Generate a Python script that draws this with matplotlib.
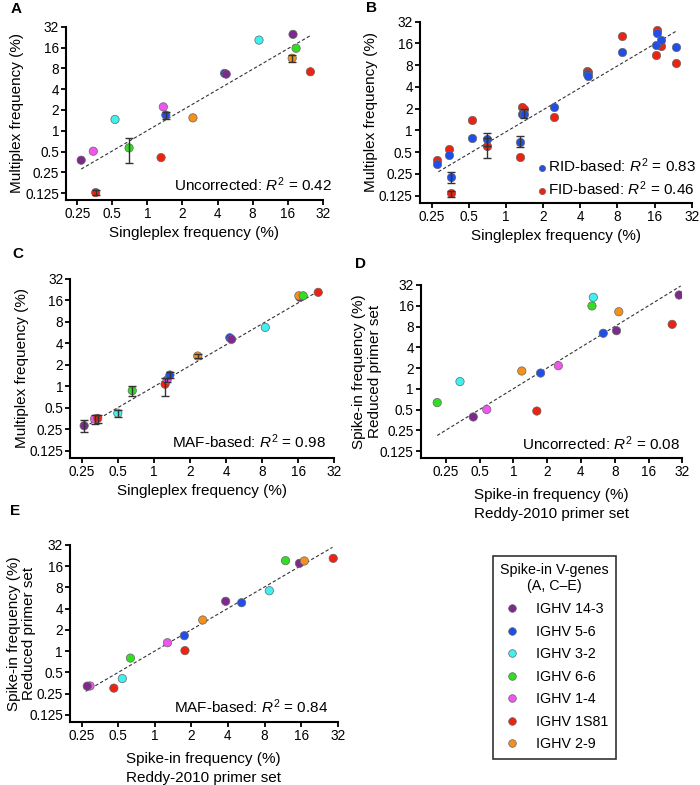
import numpy as np
import matplotlib.pyplot as plt
from matplotlib.lines import Line2D

plt.rcParams['font.family'] = ['Liberation Sans', 'DejaVu Sans']
plt.rcParams['mathtext.fontset'] = 'custom'
plt.rcParams['mathtext.rm'] = 'Liberation Sans'
plt.rcParams['mathtext.it'] = 'Liberation Sans:italic'

# spike-in genes and their colours
genes = ['IGHV 14-3', 'IGHV 5-6', 'IGHV 3-2', 'IGHV 6-6', 'IGHV 1-4', 'IGHV 1S81', 'IGHV 2-9']
gene_colors = ['#7c2a8c', '#1f4fe8', '#40f0f0', '#33dd22', '#f055f0', '#ee2211', '#f5901c']

tick_vals = [0.125, 0.25, 0.5, 1, 2, 4, 8, 16, 32]
tick_labels = ['0.125', '0.25', '0.5', '1', '2', '4', '8', '16', '32']

# Panel A: uncorrected multiplex vs singleplex
a_gene = [0, 4, 5, 2, 3, 5, 4, 1, 6, 1, 0, 2, 0, 6, 3, 5]
a_x = [0.27, 0.343, 0.36, 0.527, 0.696, 1.31, 1.37, 1.44, 2.46, 4.6, 4.75, 9.08, 17.8, 17.5, 18.9, 25.1]
a_y = [0.376, 0.507, 0.128, 1.46, 0.567, 0.41, 2.22, 1.69, 1.54, 6.77, 6.6, 20.5, 24.8, 11.2, 15.6, 7.14]
a_lo = [None, None, 0.118, None, 0.337, None, None, 1.46, None, None, None, None, None, 9.9, None, None]
a_hi = [None, None, 0.140, None, 0.80, None, None, 1.87, None, None, None, None, None, 12.3, None, None]
a_fit_x = [0.27, 25.0]
a_fit_y = [0.28, 23.7]

# Panel B: RID- and FID-based
b_x = [0.278, 0.343, 0.358, 0.528, 0.70, 1.30, 1.35, 1.41, 2.43, 4.53, 4.6, 8.7, 16.5, 16.9, 18.1, 23.9]
b_rid = [0.344, 0.453, 0.229, 0.79, 0.77, 0.70, 1.70, 1.70, 2.13, 6.05, 5.7, 12.1, 15.2, 22.1, 17.8, 14.1]
b_fid = [0.39, 0.555, 0.135, 1.40, 0.615, 0.43, 2.13, 2.0, 1.55, 6.7, 6.4, 20.5, 11.1, 24.5, 14.9, 8.66]
b_rid_lo = [None, None, 0.19, None, 0.61, 0.585, None, 1.5, None, None, None, None, None, None, None, None]
b_rid_hi = [None, None, 0.268, None, 0.93, 0.835, None, 1.95, None, None, None, None, None, None, None, None]
b_fid_lo = [None, None, 0.12, None, 0.41, None, None, None, None, None, None, None, None, None, None, None]
b_fid_hi = [None, None, 0.145, None, 0.78, None, None, None, None, None, None, None, None, None, None, None]
b_fit_x = [0.283, 24.3]
b_fit_y = [0.268, 24.0]

# Panel C: MAF-based
c_gene = [0, 4, 5, 2, 3, 5, 4, 1, 6, 1, 0, 2, 0, 6, 3, 5]
c_x = [0.262, 0.32, 0.34, 0.5, 0.66, 1.24, 1.29, 1.36, 2.32, 4.3, 4.45, 8.5, 16.5, 16.2, 17.6, 23.5]
c_y = [0.28, 0.348, 0.355, 0.42, 0.87, 1.07, 1.23, 1.44, 2.66, 4.8, 4.56, 6.7, 17.7, 18.6, 18.6, 20.8]
c_lo = [0.23, 0.30, 0.31, 0.37, 0.72, 0.72, 1.15, 1.29, 2.5, None, None, None, None, None, None, None]
c_hi = [0.34, 0.40, 0.40, 0.47, 1.0, 1.29, 1.3, 1.6, 2.85, None, None, None, None, None, None, None]
c_fit_x = [0.265, 24.0]
c_fit_y = [0.27, 22.0]

# Panel D: reduced vs Reddy-2010 primer set, uncorrected
d_gene = [3, 2, 0, 4, 6, 5, 1, 4, 3, 2, 1, 0, 6, 5, 0]
d_x = [0.21, 0.335, 0.44, 0.58, 1.19, 1.62, 1.75, 2.52, 5.02, 5.16, 6.33, 8.3, 8.7, 26.0, 30.0]
d_y = [0.63, 1.27, 0.39, 0.50, 1.81, 0.475, 1.69, 2.16, 15.9, 21.2, 6.38, 6.95, 13.1, 8.6, 22.9]
d_fit_x = [0.21, 31.0]
d_fit_y = [0.21, 31.0]

# Panel E: reduced vs Reddy-2010 primer set, MAF-based
e_gene = [4, 0, 5, 2, 3, 4, 1, 5, 6, 0, 1, 2, 3, 0, 6, 5]
e_x = [0.293, 0.278, 0.46, 0.54, 0.63, 1.27, 1.75, 1.77, 2.48, 3.83, 5.18, 8.76, 11.9, 15.5, 17.0, 29.4]
e_y = [0.322, 0.32, 0.30, 0.41, 0.80, 1.32, 1.66, 1.02, 2.77, 5.1, 4.87, 7.2, 19.2, 17.6, 19.0, 20.7]
e_fit_x = [0.27, 29.0]
e_fit_y = [0.27, 29.7]

MS = 36  # scatter marker area


def style_axes(ax, xlim):
    ax.set_xscale('log', base=2)
    ax.set_yscale('log', base=2)
    ax.set_xlim(xlim)
    ax.set_ylim(0.1, 32)
    ax.set_xticks(tick_vals[1:])
    ax.set_xticklabels(tick_labels[1:])
    ax.set_yticks(tick_vals)
    ax.set_yticklabels(tick_labels)
    ax.minorticks_off()
    for s in ['top', 'right']:
        ax.spines[s].set_visible(False)
    for s in ['left', 'bottom']:
        ax.spines[s].set_linewidth(1.5)
    ax.tick_params(direction='out', length=3.5, width=1.3, labelsize=9.8, pad=1.5)


def draw_errors(ax, x, y, lo, hi):
    for xi, yi, l, h in zip(x, y, lo, hi):
        if l is None:
            continue
        ax.errorbar([xi], [yi], yerr=[[yi - l], [h - yi]], fmt='none', ecolor='#333333',
                    elinewidth=1.0, capsize=3, capthick=1.0, zorder=4)


def draw_points(ax, x, y, gene_idx):
    cols = [gene_colors[g] for g in gene_idx]
    ax.scatter(x, y, s=MS, c=cols, edgecolors='#666666', linewidths=0.5, zorder=3)


def fit_line(ax, fx, fy):
    ax.plot(fx, fy, color='#333333', lw=0.8, ls=(0, (3, 2)), zorder=2)


fig = plt.figure(figsize=(7, 7.85), dpi=100)
W, H = 700, 785


def add_ax(x0, x1, y_top, y_bot):
    return fig.add_axes([x0 / W, 1 - y_bot / H, (x1 - x0) / W, (y_bot - y_top) / H])


# A
ax = add_ax(66, 322.7, 26.7, 200)
style_axes(ax, (0.2, 32))
fit_line(ax, a_fit_x, a_fit_y)
draw_points(ax, a_x, a_y, a_gene)
draw_errors(ax, a_x, a_y, a_lo, a_hi)
ax.set_xlabel('Singleplex frequency (%)', fontsize=11, labelpad=4)
ax.set_ylabel('Multiplex frequency (%)', fontsize=11, labelpad=0.5)
ax.text(1.035, 0.087, 'Uncorrected: $\\mathit{R}^{2}$ = 0.42', transform=ax.transAxes,
        ha='right', va='center', fontsize=11)

# B
ax = add_ax(419.8, 691.7, 21.7, 202.7)
style_axes(ax, (0.2, 32))
fit_line(ax, b_fit_x, b_fit_y)
ax.scatter(b_x, b_fid, s=MS, c=gene_colors[5], edgecolors='#666666', linewidths=0.5, zorder=3,
           label='FID-based: $\\mathit{R}^{2}$ = 0.46')
ax.scatter(b_x, b_rid, s=MS, c=gene_colors[1], edgecolors='#666666', linewidths=0.5, zorder=3,
           label='RID-based: $\\mathit{R}^{2}$ = 0.83')
draw_errors(ax, b_x, b_fid, b_fid_lo, b_fid_hi)
draw_errors(ax, b_x, b_rid, b_rid_lo, b_rid_hi)
h, l = ax.get_legend_handles_labels()
ax.legend(h[::-1], l[::-1], loc='lower right', bbox_to_anchor=(1.016, 0.025), frameon=False,
          fontsize=11, handletextpad=0.15, handlelength=0.5, labelspacing=0.3, borderpad=0,
          borderaxespad=0, markerscale=0.75)
ax.set_xlabel('Singleplex frequency (%)', fontsize=11, labelpad=4)
ax.set_ylabel('Multiplex frequency (%)', fontsize=11, labelpad=0.5)

# C
ax = add_ax(70.1, 334.3, 279, 457.6)
style_axes(ax, (0.2, 32))
fit_line(ax, c_fit_x, c_fit_y)
draw_points(ax, c_x, c_y, c_gene)
draw_errors(ax, c_x, c_y, c_lo, c_hi)
ax.set_xlabel('Singleplex frequency (%)', fontsize=11, labelpad=4)
ax.set_ylabel('Multiplex frequency (%)', fontsize=11, labelpad=0.5)
ax.text(0.969, 0.089, 'MAF-based: $\\mathit{R}^{2}$ = 0.98', transform=ax.transAxes,
        ha='right', va='center', fontsize=11)

# D
ax = add_ax(420.8, 682.3, 285, 457.7)
style_axes(ax, (0.15, 32))
fit_line(ax, d_fit_x, d_fit_y)
draw_points(ax, d_x, d_y, d_gene)
ax.set_xlabel('Spike-in frequency (%)\nReddy-2010 primer set', fontsize=11, labelpad=7,
              linespacing=1.4)
ax.set_ylabel('Spike-in frequency (%)\nReduced primer set', fontsize=11, linespacing=1.2)
ax.yaxis.set_label_coords(-0.148, 0.5)
ax.text(0.991, 0.079, 'Uncorrected: $\\mathit{R}^{2}$ = 0.08', transform=ax.transAxes,
        ha='right', va='center', fontsize=11)

# E
ax = add_ax(69.9, 337.7, 545, 721.8)
style_axes(ax, (0.2, 32))
fit_line(ax, e_fit_x, e_fit_y)
draw_points(ax, e_x, e_y, e_gene)
ax.set_xlabel('Spike-in frequency (%)\nReddy-2010 primer set', fontsize=11, labelpad=7,
              linespacing=1.4)
ax.set_ylabel('Spike-in frequency (%)\nReduced primer set', fontsize=11, linespacing=1.1)
ax.yaxis.set_label_coords(-0.128, 0.5)
ax.text(0.965, 0.085, 'MAF-based: $\\mathit{R}^{2}$ = 0.84', transform=ax.transAxes,
        ha='right', va='center', fontsize=11)

# panel letters
for letter, px, py in [('A', 11, 9), ('B', 366, 8), ('C', 12, 254), ('D', 355, 264), ('E', 10, 511)]:
    fig.text(px / W, 1 - py / H, letter, fontsize=11, fontweight='bold', ha='left', va='center')

# gene legend
handles = [Line2D([], [], ls='none', marker='o', markersize=5.5, markerfacecolor=c,
                  markeredgecolor='#666666', markeredgewidth=0.5) for c in gene_colors]
leg = fig.legend(handles, genes, loc='upper left', bbox_to_anchor=(493 / W, 1 - 556 / H),
                 title='Spike-in V-genes\n(A, C\u2013E)', fontsize=10.3, title_fontsize=10.3,
                 frameon=True, fancybox=False, edgecolor='black', handletextpad=0.9,
                 labelspacing=0.6, borderpad=0.5, handlelength=1.6, borderaxespad=0)
leg.get_frame().set_linewidth(1.2)
leg.get_title().set_multialignment('center')

fig.savefig('out.png', dpi=100)
